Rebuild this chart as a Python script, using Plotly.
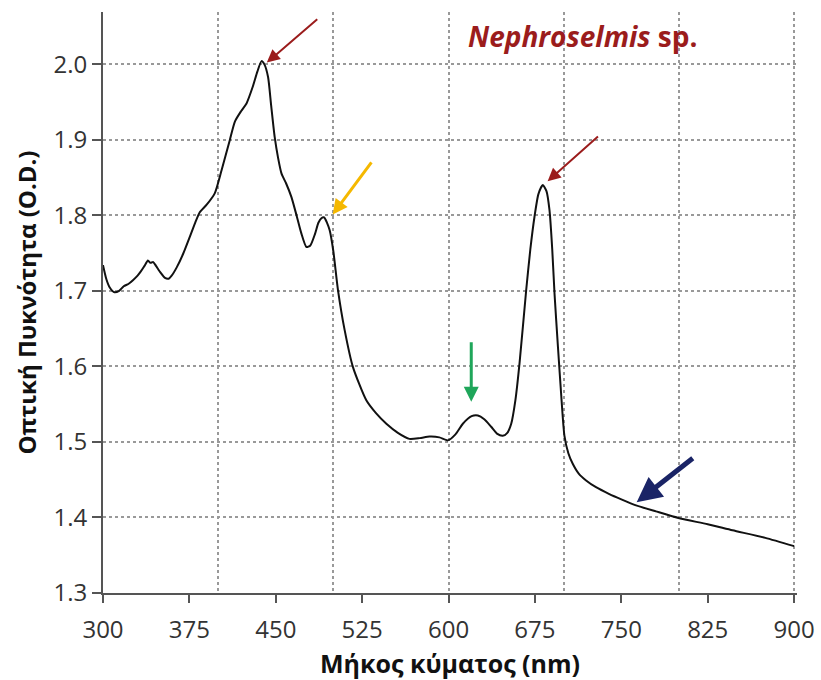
import plotly.graph_objects as go

wavelength = [300, 303, 306, 310, 314, 318, 322, 326, 330, 333, 336, 339, 341, 343.6, 346, 350,
              353.8, 357, 359.6, 364, 369.6, 375, 380, 384, 390, 397, 403, 410, 414.5, 420, 424.6,
              430, 434, 437.6, 440, 443.3, 446, 449, 452, 455, 459, 463.6, 468, 472, 476.6, 480,
              484, 487, 489.6, 492, 494.5, 496.8, 500, 504, 509.8, 517, 528.6, 537, 546, 556, 566,
              575, 583.5, 592, 599.4, 606, 612.4, 620, 625.4, 631, 637, 642, 647, 651, 654.4, 658,
              661.6, 667.4, 671, 674.6, 678, 681.8, 685, 687.6, 690, 692, 695, 697.7, 700.6, 704,
              707.8, 713, 719.4, 728, 739.6, 750, 762.8, 780, 800.3, 825, 846.5, 875, 900]
od = [1.734, 1.715, 1.704, 1.698, 1.700, 1.706, 1.709, 1.714, 1.720, 1.726, 1.733, 1.740, 1.737,
      1.738, 1.733, 1.724, 1.717, 1.716, 1.720, 1.731, 1.749, 1.770, 1.790, 1.804, 1.814, 1.829,
      1.860, 1.899, 1.924, 1.938, 1.948, 1.970, 1.990, 2.004, 2.000, 1.983, 1.945, 1.904, 1.876,
      1.855, 1.842, 1.824, 1.800, 1.777, 1.758, 1.760, 1.775, 1.790, 1.796, 1.797, 1.790, 1.780,
      1.752, 1.701, 1.648, 1.599, 1.555, 1.538, 1.524, 1.512, 1.504, 1.505, 1.507, 1.506, 1.502,
      1.510, 1.524, 1.534, 1.535, 1.530, 1.520, 1.511, 1.508, 1.512, 1.524, 1.555, 1.604, 1.701,
      1.755, 1.798, 1.828, 1.840, 1.832, 1.807, 1.755, 1.696, 1.625, 1.564, 1.508, 1.485, 1.471,
      1.458, 1.449, 1.440, 1.431, 1.424, 1.416, 1.408, 1.399, 1.391, 1.383, 1.373, 1.362]

x_ticks = [300, 375, 450, 525, 600, 675, 750, 825, 900]
y_ticks = [1.3, 1.4, 1.5, 1.6, 1.7, 1.8, 1.9, 2.0]
y_tick_text = ["1.3", "1.4", "1.5", "1.6", "1.7", "1.8", "1.9", "2.0"]

# arrows: (tail_x, tail_y, head_x, head_y, color, width)
arrows = [
    (487.3, 2.061, 442.2, 2.002, "#9b1c1c", 2),
    (534.0, 1.872, 499.4, 1.801, "#f5b800", 3),
    (731.0, 1.906, 686.0, 1.845, "#9b1c1c", 2),
    (619.7, 1.634, 619.7, 1.553, "#1fa65a", 3),
    (813.3, 1.480, 763.3, 1.420, "#1a2466", 5),
]

FONT = "Open Sans"
X_RANGE = [300, 902.5]

fig = go.Figure()
# invisible trace so the secondary x axis (100 nm grid) is drawn
fig.add_trace(go.Scatter(x=[wavelength[0], wavelength[-1]], y=[od[0], od[-1]], xaxis="x2",
                         mode="lines", line=dict(width=0), opacity=0,
                         showlegend=False, hoverinfo="skip"))
fig.add_trace(go.Scatter(x=wavelength, y=od, mode="lines",
                         line=dict(color="#111111", width=2, shape="spline", smoothing=0.6),
                         showlegend=False, hoverinfo="skip"))

for tx, ty, hx, hy, col, w in arrows:
    fig.add_annotation(x=hx, y=hy, ax=tx, ay=ty, xref="x", yref="y", axref="x", ayref="y",
                       showarrow=True, arrowhead=2, arrowsize=1.0 if w > 2 else 1.3,
                       arrowwidth=w, arrowcolor=col, text="")

fig.add_annotation(x=716, y=2.037, xref="x", yref="y", showarrow=False,
                   text="<b><i>Nephroselmis</i> sp.</b>",
                   font=dict(family=FONT, size=28, color="#9b1c1c"))

fig.update_layout(
    width=821, height=680,
    margin=dict(l=103, r=24, t=12, b=87, autoexpand=False),
    paper_bgcolor="white", plot_bgcolor="white",
    font=dict(family=FONT, color="#333333"),
    xaxis=dict(range=X_RANGE, tickmode="array", tickvals=x_ticks,
               showgrid=False, zeroline=False, automargin=False,
               showline=True, linecolor="#555555", linewidth=2,
               ticks="outside", ticklen=8, tickwidth=2, tickcolor="#555555",
               tickfont=dict(size=24, color="#333333"), ticklabelstandoff=6,
               title=dict(text="<b>Μήκος κύματος (nm)</b>", font=dict(size=25, color="#111111"),
                          standoff=16)),
    xaxis2=dict(range=X_RANGE, overlaying="x", tick0=0, dtick=100, automargin=False,
                showgrid=True, griddash="dot", gridcolor="#999999", gridwidth=1.5,
                showticklabels=False, ticks="", showline=False, zeroline=False),
    yaxis=dict(range=[1.3, 2.069], tickmode="array", tickvals=y_ticks, ticktext=y_tick_text,
               showgrid=True, griddash="dot", gridcolor="#999999", gridwidth=1.5,
               zeroline=False, automargin=False,
               showline=True, linecolor="#555555", linewidth=2,
               ticks="outside", ticklen=9, tickwidth=2, tickcolor="#555555",
               tickfont=dict(size=24, color="#333333"),
               title=dict(text="<b>Οπτική Πυκνότητα (O.D.)</b>", font=dict(size=24, color="#111111"),
                          standoff=10)),
)

fig.write_html("out.html")
